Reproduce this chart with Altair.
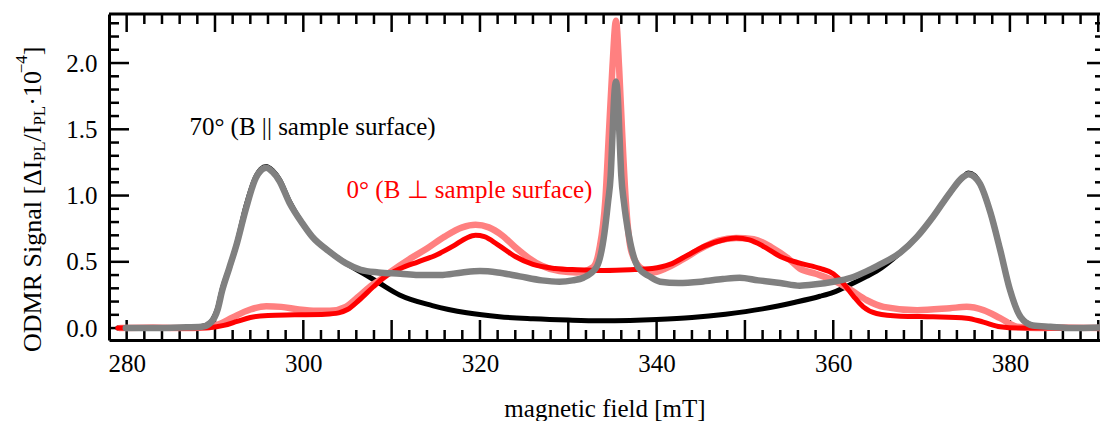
import altair as alt
import pandas as pd

FONT = "Liberation Serif"

# ---------------- data (B in mT, signal in 1e-4) ----------------
sim70 = [(279.0, 0.0), (284.0, 0.0), (287.5, 0.005), (289.0, 0.02), (289.7, 0.06), (290.3, 0.15),
         (290.8, 0.29), (291.6, 0.45), (292.4, 0.62), (293.5, 0.92), (294.6, 1.14), (295.2, 1.20),
         (295.8, 1.22), (296.5, 1.19), (297.3, 1.12), (298.4, 0.96), (299.9, 0.79), (301.0, 0.69),
         (302.9, 0.58), (304.8, 0.49), (307.1, 0.40), (308.6, 0.34), (310.9, 0.25), (314.6, 0.17),
         (318.5, 0.115), (322.2, 0.085), (326.0, 0.07), (330.0, 0.06), (333.6, 0.055), (337.0, 0.058),
         (340.0, 0.065), (344.0, 0.08), (347.8, 0.105), (352.0, 0.145), (355.7, 0.195), (358.5, 0.24),
         (360.0, 0.27), (362.0, 0.33), (363.8, 0.39), (364.9, 0.43), (367.6, 0.57), (369.5, 0.69),
         (371.3, 0.84), (373.2, 1.02), (374.7, 1.14), (375.3, 1.17), (376.0, 1.15), (376.6, 1.09),
         (377.8, 0.87), (378.9, 0.59), (380.0, 0.29), (381.2, 0.085), (382.6, 0.02), (384.6, 0.005),
         (386.5, 0.0)]

sim0 = [(279.0, 0.0), (286.0, 0.0), (289.5, 0.005), (291.0, 0.02), (292.5, 0.05), (294.0, 0.08),
        (296.0, 0.095), (299.0, 0.10), (302.5, 0.105), (304.0, 0.115), (305.0, 0.14), (306.3, 0.21),
        (307.9, 0.31), (309.3, 0.39), (311.0, 0.45), (313.0, 0.50), (315.0, 0.55), (317.0, 0.62),
        (318.5, 0.68), (319.5, 0.70), (320.5, 0.69), (322.0, 0.63), (324.0, 0.54), (326.0, 0.48),
        (328.5, 0.45), (331.0, 0.44), (334.0, 0.435), (337.0, 0.44), (339.5, 0.45), (341.5, 0.48),
        (343.5, 0.55), (345.5, 0.62), (347.5, 0.665), (349.0, 0.68), (350.5, 0.665), (352.0, 0.62),
        (354.0, 0.54), (356.2, 0.49), (358.5, 0.45), (360.0, 0.41), (361.1, 0.34), (362.3, 0.24),
        (363.4, 0.16), (364.9, 0.11), (367.6, 0.09), (371.3, 0.085), (375.1, 0.075), (377.0, 0.045),
        (378.9, 0.01), (381.0, 0.0), (390.2, 0.0)]

data0 = [(279.3, 0.0), (283.0, 0.005), (286.0, 0.0), (289.0, 0.005), (290.5, 0.03), (292.0, 0.08),
         (294.0, 0.14), (295.8, 0.165), (297.5, 0.16), (299.5, 0.14), (301.5, 0.13), (303.0, 0.13),
         (304.8, 0.16), (306.3, 0.24), (307.5, 0.31), (308.6, 0.36), (310.0, 0.43), (312.0, 0.52),
         (314.0, 0.60), (316.0, 0.69), (318.0, 0.76), (319.5, 0.78), (321.0, 0.76), (322.5, 0.70),
         (324.0, 0.61), (325.5, 0.53), (327.0, 0.47), (329.0, 0.43), (331.0, 0.42), (332.8, 0.46),
         (333.5, 0.59), (334.2, 0.97), (334.6, 1.47), (335.0, 1.97), (335.4, 2.32), (335.75, 1.97),
         (336.1, 1.47), (336.5, 0.97), (337.1, 0.59), (338.1, 0.46), (339.5, 0.42), (341.0, 0.45),
         (343.0, 0.52), (345.0, 0.60), (347.0, 0.66), (349.0, 0.68), (351.0, 0.67), (353.0, 0.61),
         (355.0, 0.52), (356.2, 0.45), (358.0, 0.41), (360.0, 0.36), (361.9, 0.29), (363.8, 0.21),
         (365.7, 0.16), (369.5, 0.135), (373.2, 0.15), (375.1, 0.16), (377.0, 0.135), (378.9, 0.075),
         (380.8, 0.01), (383.0, 0.0), (386.0, 0.005), (390.2, 0.0)]

data70 = [(279.9, 0.0), (283.0, 0.0), (286.0, 0.005), (288.5, 0.01), (289.5, 0.04), (290.3, 0.14),
          (290.8, 0.28), (291.6, 0.45), (292.4, 0.62), (293.5, 0.90), (294.6, 1.13), (295.2, 1.19),
          (295.8, 1.21), (296.5, 1.18), (297.3, 1.11), (298.4, 0.95), (299.9, 0.79), (301.0, 0.69),
          (302.9, 0.58), (304.8, 0.49), (306.5, 0.44), (308.5, 0.42), (311.0, 0.41), (313.0, 0.40),
          (315.5, 0.40), (318.0, 0.42), (320.0, 0.43), (322.0, 0.42), (324.5, 0.39), (327.0, 0.36),
          (329.0, 0.35), (330.5, 0.36), (331.7, 0.38), (333.2, 0.46), (334.1, 0.72), (334.5, 0.95),
          (334.8, 1.15), (335.0, 1.45), (335.2, 1.75), (335.4, 1.86), (335.6, 1.75), (335.8, 1.45),
          (336.0, 1.15), (336.3, 0.95), (336.8, 0.72), (337.9, 0.46), (339.2, 0.39), (340.4, 0.35),
          (342.5, 0.34), (345.0, 0.35), (347.5, 0.37), (349.4, 0.38), (351.5, 0.36), (354.0, 0.34),
          (356.2, 0.32), (358.0, 0.33), (360.0, 0.35), (362.0, 0.38), (363.8, 0.43), (365.0, 0.47),
          (367.6, 0.57), (369.5, 0.69), (371.3, 0.84), (373.2, 1.02), (374.7, 1.14), (375.3, 1.16),
          (376.0, 1.14), (376.6, 1.09), (377.8, 0.87), (378.9, 0.59), (380.0, 0.29), (381.2, 0.085),
          (382.6, 0.02), (384.6, 0.01), (387.0, 0.0), (390.2, 0.005)]

x_label_ticks = [280, 300, 320, 340, 360, 380]
y_label_ticks = [0.0, 0.5, 1.0, 1.5, 2.0]
x_long_ticks = [280, 290, 300, 310, 320, 330, 340, 350, 360, 370, 380, 390]
x_short_ticks = [282, 284, 286, 288, 292, 294, 296, 298, 302, 304, 306, 308, 312, 314, 316, 318,
                 322, 324, 326, 328, 332, 334, 336, 338, 342, 344, 346, 348, 352, 354, 356, 358,
                 362, 364, 366, 368, 372, 374, 376, 378, 382, 384, 386, 388]
y_long_ticks = [0.0, 0.5, 1.0, 1.5, 2.0]
y_short_ticks = [0.1, 0.2, 0.3, 0.4, 0.6, 0.7, 0.8, 0.9, 1.1, 1.2, 1.3, 1.4, 1.6, 1.7, 1.8, 1.9,
                 2.1, 2.2, 2.3]

x_title = "magnetic field [mT]"
y_title_parts = [("ODMR Signal [ΔI", "main"), ("PL", "sub"), ("/I", "main"), ("PL", "sub"),
                 ("·10", "main"), ("−4", "sup"), ("]", "main")]
label_70 = "70° (B || sample surface)"
label_0 = "0° (B ⊥ sample surface)"
label_70_at = (287.1, 1.457)
label_0_at = (304.9, 0.979)

# ---------------- layout ----------------
W, H = 991, 326
xs = alt.Scale(domain=[278, 390.2], nice=False, zero=False)
ys = alt.Scale(domain=[-0.09, 2.37], nice=False, zero=False)

x_axis = alt.Axis(values=x_label_ticks, format="d", ticks=False, domain=True, domainWidth=3,
                  domainColor="black", labelFont=FONT, labelFontSize=25, labelColor="black",
                  labelPadding=11, labelFlush=False, grid=False, title=x_title, titleFont=FONT,
                  titleFontSize=25, titleFontWeight="normal", titleColor="black", titlePadding=20)
y_axis = alt.Axis(values=y_label_ticks, format=".1f", ticks=False, domain=True, domainWidth=3,
                  domainColor="black", labelFont=FONT, labelFontSize=25, labelColor="black",
                  labelPadding=12, labelFlush=False, grid=False, title=None)


def line_layer(pts, color, width):
    df = pd.DataFrame(pts, columns=["B", "S"])
    df["i"] = range(len(df))
    return alt.Chart(df).mark_line(
        color=color, strokeWidth=width, interpolate="monotone", clip=True,
        strokeJoin="round", strokeCap="round"
    ).encode(
        x=alt.X("B:Q", scale=xs, axis=None),
        y=alt.Y("S:Q", scale=ys, axis=None),
        order="i:Q",
    )


def tick_layer(vals, side, length):
    df = pd.DataFrame({"v": vals})
    m = alt.Chart(df).mark_rule(color="black", strokeWidth=2.5)
    if side == "bottom":
        return m.encode(x=alt.X("v:Q", scale=xs, axis=None), y=alt.value(H), y2=alt.value(H - length))
    if side == "top":
        return m.encode(x=alt.X("v:Q", scale=xs, axis=None), y=alt.value(0), y2=alt.value(length))
    if side == "left":
        return m.encode(y=alt.Y("v:Q", scale=ys, axis=None), x=alt.value(0), x2=alt.value(length))
    return m.encode(y=alt.Y("v:Q", scale=ys, axis=None), x=alt.value(W), x2=alt.value(W - length))


one = pd.DataFrame({"k": [0]})
layers = []

# invisible layer that carries the labelled axes
axis_df = pd.DataFrame(sim70, columns=["B", "S"])
layers.append(alt.Chart(axis_df).mark_point(opacity=0).encode(
    x=alt.X("B:Q", scale=xs, axis=x_axis), y=alt.Y("S:Q", scale=ys, axis=y_axis)))

layers.append(tick_layer(x_long_ticks, "bottom", 20))
layers.append(tick_layer(x_short_ticks, "bottom", 10))
layers.append(tick_layer(x_long_ticks, "top", 18))
layers.append(tick_layer(x_short_ticks, "top", 10))
layers.append(tick_layer(y_long_ticks, "left", 20))
layers.append(tick_layer(y_short_ticks, "left", 10))
layers.append(tick_layer(y_long_ticks, "right", 13))
layers.append(tick_layer(y_short_ticks, "right", 5))
layers.append(alt.Chart(one).mark_rule(color="black", strokeWidth=3).encode(
    x=alt.value(0), x2=alt.value(W), y=alt.value(0)))

layers.append(line_layer(sim70, "#000000", 5))
layers.append(line_layer(data0, "#ff8080", 6.5))
layers.append(line_layer(sim0, "#ff0000", 5))
layers.append(line_layer(data70, "#808080", 6.5))

for (txt, at, col) in [(label_70, label_70_at, "#000000"), (label_0, label_0_at, "#ff0000")]:
    d = pd.DataFrame({"B": [at[0]], "S": [at[1]], "t": [txt]})
    layers.append(alt.Chart(d).mark_text(
        align="left", baseline="alphabetic", font=FONT, fontSize=25, color=col
    ).encode(x=alt.X("B:Q", scale=xs, axis=None), y=alt.Y("S:Q", scale=ys, axis=None), text="t:N"))

# rotated y title built from pieces (sub/superscripts)
MAIN_FS, SMALL_FS = 26, 17
adv = {"ODMR Signal [ΔI": 7.334, "PL": 1.167, "/I": 0.611, "·10": 1.25, "−4": 1.064, "]": 0.333}
base_x, start_y = -68, 338
run = 0.0
for txt, role in y_title_parts:
    fs = MAIN_FS if role == "main" else SMALL_FS
    dx = {"main": 0, "sub": 4, "sup": -14}[role]
    layers.append(alt.Chart(one).mark_text(
        text=txt, angle=270, align="left", baseline="alphabetic", font=FONT, fontSize=fs,
        color="black"
    ).encode(x=alt.value(base_x + dx), y=alt.value(start_y - run)))
    run += adv[txt] * fs

chart = alt.layer(*layers).resolve_axis(x="independent", y="independent").properties(
    width=W, height=H,
    padding={"left": 109, "top": 14, "right": 0, "bottom": 81},
    autosize=alt.AutoSizeParams(type="none"),
).configure_view(stroke=None).configure(background="white")

chart.save("out.html", embed_options={"renderer": "svg", "actions": False})
